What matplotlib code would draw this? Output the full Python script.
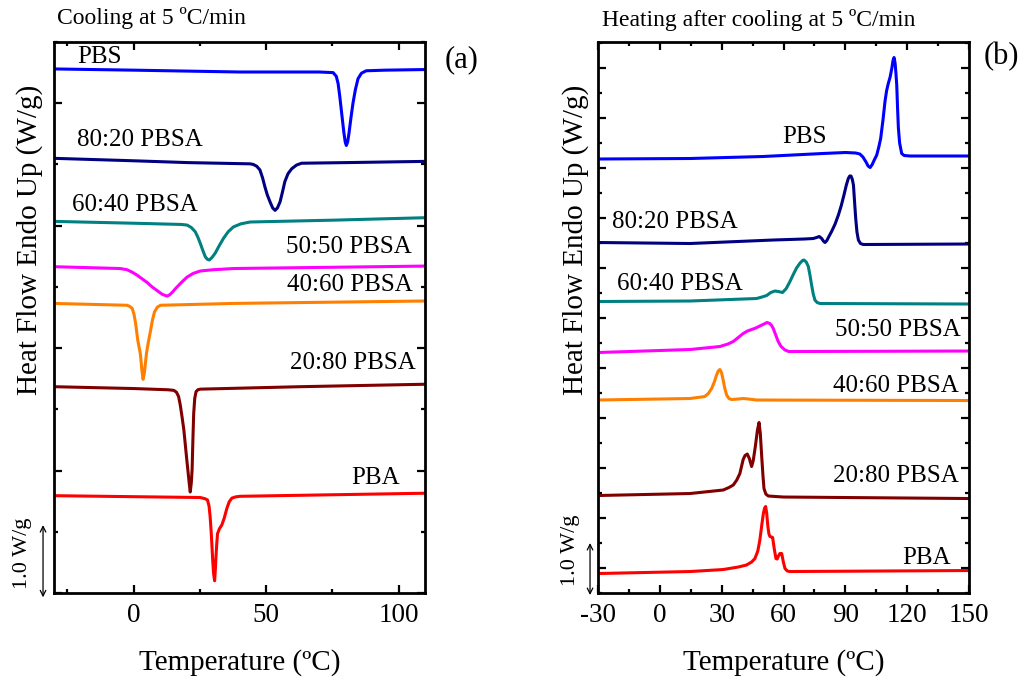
import matplotlib
matplotlib.use("Agg")
import matplotlib.pyplot as plt
from matplotlib.ticker import MultipleLocator

plt.rcParams["font.family"] = ["Liberation Serif", "DejaVu Serif"]
plt.rcParams["axes.unicode_minus"] = False

# ---- (a) cooling scans: temperature (C) and offset heat flow (plot units) ----
cool_pbs_t = [-30, 0, 40, 70, 75.3, 76.5, 77.2, 77.8, 78.4, 79.0, 79.4, 79.9, 80.3, 80.8,
              81.3, 82.0, 82.8, 83.7, 84.7, 86.0, 87.8, 95, 110]
cool_pbs_y = [8.56, 8.54, 8.51, 8.51, 8.50, 8.44, 8.32, 8.12, 7.89, 7.66, 7.51, 7.36, 7.31, 7.37,
              7.51, 7.75, 8.00, 8.22, 8.40, 8.49, 8.53, 8.54, 8.55]

cool_8020_t = [-30, 0, 20.6, 44.0, 45.2, 46.5, 47.7, 48.7, 49.6, 50.5, 51.5, 52.5, 53.4, 54.3,
               55.3, 56.2, 57.1, 58.3, 59.7, 61.5, 63.4, 80, 110]
cool_8020_y = [7.10, 7.06, 7.03, 7.01, 7.00, 6.97, 6.91, 6.78, 6.63, 6.50, 6.39, 6.29, 6.25, 6.29,
               6.39, 6.55, 6.72, 6.85, 6.93, 6.99, 7.02, 7.03, 7.05]

cool_6040_t = [-30, 0, 18.0, 20.2, 21.8, 23.3, 24.3, 25.2, 26.2, 27.1, 27.9, 28.6, 29.6, 30.8,
               32.3, 33.9, 35.7, 37.7, 40.5, 44.0, 75.3, 110]
cool_6040_y = [6.07, 6.04, 6.02, 6.01, 5.97, 5.90, 5.81, 5.71, 5.59, 5.49, 5.45, 5.44, 5.48, 5.55,
               5.67, 5.79, 5.90, 5.98, 6.03, 6.06, 6.09, 6.13]

cool_5050_t = [-30, -5.0, -2.4, -0.5, 1.4, 3.3, 5.2, 7.0, 8.9, 10.8, 12.0, 12.7, 13.6, 14.6,
               15.8, 18.0, 20.2, 22.5, 25.2, 30.0, 37.7, 110]
cool_5050_y = [5.33, 5.30, 5.28, 5.24, 5.19, 5.13, 5.07, 5.00, 4.94, 4.88, 4.86, 4.85, 4.87, 4.91,
               4.97, 5.07, 5.16, 5.22, 5.26, 5.28, 5.30, 5.34]

cool_4060_t = [-30, -2.4, -1.4, -0.5, 0.2, 0.8, 1.6, 2.6, 3.2, 3.6, 4.1, 4.9, 5.6, 6.4, 7.1,
               7.9, 9.0, 10.2, 37.7, 110]
cool_4060_y = [4.73, 4.70, 4.68, 4.65, 4.55, 4.40, 4.13, 3.90, 3.62, 3.49, 3.60, 3.92, 4.10, 4.28,
               4.45, 4.59, 4.67, 4.70, 4.73, 4.77]

cool_2080_t = [-30, 0, 13.0, 15.2, 16.2, 17.0, 17.6, 18.3, 19.0, 19.5, 20.0, 20.5, 21.0, 21.4,
               21.8, 22.1, 22.4, 22.7, 23.1, 23.6, 24.3, 25.2, 62.8, 110]
cool_2080_y = [3.37, 3.34, 3.32, 3.31, 3.28, 3.21, 3.08, 2.88, 2.66, 2.44, 2.22, 2.01, 1.80, 1.65,
               1.80, 2.01, 2.50, 2.93, 3.18, 3.29, 3.32, 3.33, 3.37, 3.41]

cool_pba_t = [-30, 25.2, 27.0, 27.9, 28.5, 28.9, 29.3, 29.6, 29.9, 30.2, 30.6, 30.9, 31.1, 31.4,
              31.7, 32.4, 33.3, 34.2, 35.2, 36.1, 37.1, 38.5, 40.2, 110]
cool_pba_y = [1.59, 1.56, 1.54, 1.52, 1.42, 1.25, 1.00, 0.76, 0.52, 0.32, 0.20, 0.40, 0.59, 0.80,
              0.97, 1.05, 1.11, 1.22, 1.38, 1.49, 1.55, 1.57, 1.58, 1.63]

# ---- (b) heating scans ----
heat_pbs_t = [-30, 14.6, 50, 79.0, 90.0, 95.0, 97.0, 98.5, 100.0, 101.0, 102.0, 103.0, 104.0,
              105.2, 106.2, 107.1, 108.2, 109.2, 110.0, 110.8, 111.7, 112.5, 113.1, 113.6,
              114.1, 114.5, 114.9, 115.3, 115.7, 116.3, 117.3, 118.5, 121.4, 150]
heat_pbs_y = [8.18, 8.19, 8.23, 8.29, 8.31, 8.30, 8.28, 8.22, 8.12, 8.04, 8.01, 8.07, 8.16,
              8.26, 8.42, 8.59, 8.95, 9.33, 9.55, 9.69, 9.82, 9.99, 10.15, 10.21,
              10.10, 9.90, 9.66, 9.20, 8.80, 8.50, 8.29, 8.25, 8.24, 8.24]

heat_8020_t = [-30, 14.6, 55.0, 70.0, 74.4, 76.0, 77.3, 78.5, 79.3, 80.1, 81.0, 82.0, 83.3,
               85.0, 86.6, 88.0, 89.3, 90.4, 91.4, 92.1, 92.7, 93.3, 93.9, 94.4, 95.0, 95.6,
               96.3, 97.3, 98.7, 150]
heat_8020_y = [6.51, 6.49, 6.56, 6.58, 6.59, 6.61, 6.63, 6.59, 6.54, 6.51, 6.55, 6.63, 6.73,
               6.88, 7.06, 7.25, 7.46, 7.65, 7.79, 7.84, 7.84, 7.78, 7.66, 7.35, 6.99, 6.72,
               6.56, 6.49, 6.47, 6.48]

heat_6040_t = [-30, 14.6, 46.9, 49.5, 51.8, 53.8, 55.8, 57.5, 59.5, 61.3, 63.1, 64.7, 66.3,
               68.0, 69.2, 69.9, 71.0, 72.0, 72.8, 73.6, 74.4, 75.2, 76.3, 77.7, 150]
heat_6040_y = [5.33, 5.34, 5.39, 5.42, 5.45, 5.51, 5.54, 5.53, 5.51, 5.59, 5.73, 5.87, 6.00,
               6.10, 6.15, 6.16, 6.12, 6.03, 5.86, 5.66, 5.48, 5.36, 5.31, 5.29, 5.28]

heat_5050_t = [-30, 14.6, 29.1, 33.0, 35.6, 38.0, 40.4, 42.5, 44.5, 46.5, 48.5, 50.5, 52.0,
               53.3, 54.2, 55.0, 56.2, 57.4, 58.8, 60.7, 62.5, 64.7, 150]
heat_5050_y = [4.31, 4.37, 4.43, 4.48, 4.53, 4.61, 4.69, 4.74, 4.77, 4.80, 4.84, 4.88, 4.91,
               4.89, 4.85, 4.79, 4.66, 4.53, 4.43, 4.36, 4.33, 4.33, 4.34]

heat_4060_t = [-30, 14.6, 20.0, 21.8, 23.5, 25.1, 26.4, 27.5, 28.3, 29.1, 29.9, 30.7, 31.5,
               32.4, 33.5, 34.8, 38.0, 40.4, 43.0, 46.9, 150]
heat_4060_y = [3.36, 3.39, 3.42, 3.43, 3.49, 3.59, 3.72, 3.86, 3.94, 3.97, 3.91, 3.76, 3.59,
               3.46, 3.39, 3.37, 3.38, 3.39, 3.38, 3.36, 3.35]

heat_2080_t = [-30, 14.6, 30.7, 33.5, 35.6, 37.3, 38.8, 39.6, 40.4, 41.3, 42.4, 43.4, 44.5,
               45.3, 46.3, 47.3, 48.1, 48.7, 49.4, 50.0, 50.5, 51.4, 52.6, 60.0, 150]
heat_2080_y = [1.45, 1.49, 1.56, 1.61, 1.66, 1.76, 1.89, 2.03, 2.17, 2.25, 2.28, 2.19, 2.03,
               2.15, 2.43, 2.75, 2.91, 2.70, 2.23, 1.85, 1.59, 1.48, 1.44, 1.42, 1.39]

heat_pba_t = [-30, 14.6, 30.7, 38.0, 42.0, 44.5, 46.1, 47.5, 48.5, 49.4, 50.2, 50.8, 51.3,
              51.8, 52.4, 52.9, 53.4, 54.1, 54.7, 55.5, 56.3, 56.9, 57.4, 58.2, 59.1, 59.9,
              60.7, 61.8, 63.1, 150]
heat_pba_y = [-0.11, -0.07, -0.03, 0.02, 0.06, 0.12, 0.19, 0.34, 0.56, 0.85, 1.09, 1.20, 1.23,
              1.10, 0.83, 0.68, 0.63, 0.62, 0.61, 0.38, 0.19, 0.18, 0.23, 0.29, 0.29, 0.12,
              -0.01, -0.06, -0.07, -0.05]

names = ["PBS", "80:20 PBSA", "60:40 PBSA", "50:50 PBSA", "40:60 PBSA", "20:80 PBSA", "PBA"]
colors = ["#0000ff", "#000080", "#008080", "#ff00ff", "#ff8000", "#800000", "#ff0000"]

cool_curves = [(cool_pbs_t, cool_pbs_y), (cool_8020_t, cool_8020_y), (cool_6040_t, cool_6040_y),
               (cool_5050_t, cool_5050_y), (cool_4060_t, cool_4060_y), (cool_2080_t, cool_2080_y),
               (cool_pba_t, cool_pba_y)]
heat_curves = [(heat_pbs_t, heat_pbs_y), (heat_8020_t, heat_8020_y), (heat_6040_t, heat_6040_y),
               (heat_5050_t, heat_5050_y), (heat_4060_t, heat_4060_y), (heat_2080_t, heat_2080_y),
               (heat_pba_t, heat_pba_y)]

# label anchors (temperature, offset) for each curve name
cool_label_pos = [(-21.4, 8.75), (-21.4, 7.40), (-23.3, 6.33), (57.5, 5.65),
                  (57.9, 5.03), (59.0, 3.76), (82.3, 1.88)]
heat_label_pos = [(59.2, 8.62), (-23.3, 6.92), (-20.9, 5.68), (85.0, 4.76),
                  (84.0, 3.64), (84.0, 1.84), (117.5, 0.20)]

fig = plt.figure(figsize=(10.23, 6.84), dpi=100)
ax_a = fig.add_axes([0.0528, 0.1330, 0.3627, 0.8056])
ax_b = fig.add_axes([0.5846, 0.1330, 0.3627, 0.8056])


def style_axes(ax, xlim, ylim, xmaj, xmin, ymaj, ymin):
    ax.set_xlim(*xlim)
    ax.set_ylim(*ylim)
    ax.xaxis.set_major_locator(MultipleLocator(xmaj))
    ax.xaxis.set_minor_locator(MultipleLocator(xmin))
    ax.yaxis.set_major_locator(MultipleLocator(ymaj))
    ax.yaxis.set_minor_locator(MultipleLocator(ymin))
    ax.tick_params(which="both", direction="in", top=True, right=True, width=1.6)
    ax.tick_params(which="major", length=6)
    ax.tick_params(which="minor", length=3)
    ax.tick_params(axis="x", labelsize=19.5, pad=7)
    ax.tick_params(axis="y", labelleft=False)
    for sp in ax.spines.values():
        sp.set_linewidth(2)
    ax.set_xlabel("Temperature (ºC)", fontsize=21)
    ax.xaxis.set_label_coords(0.5, -0.127)
    ax.xaxis.label.set_va("center")


for (t, y), c in zip(cool_curves, colors):
    ax_a.plot(t, y, color=c, lw=2.2, solid_joinstyle="round")
for (t, y), c in zip(heat_curves, colors):
    ax_b.plot(t, y, color=c, lw=2.2, solid_joinstyle="round")

for name, (tx, ty) in zip(names, cool_label_pos):
    ax_a.text(tx, ty, name, fontsize=18, ha="left", va="center")
for name, (tx, ty) in zip(names, heat_label_pos):
    ax_b.text(tx, ty, name, fontsize=18, ha="left", va="center")

style_axes(ax_a, (-30, 110), (0, 9.0), 50, 25, 2, 1)
style_axes(ax_b, (-30, 150), (-0.5, 10.52), 30, 15, 1, 0.5)

# scale bars
ax_a.annotate("", xy=(-0.0296, -0.07), xytext=(-0.0296, 1.11),
              xycoords=("axes fraction", "data"), textcoords=("axes fraction", "data"),
              arrowprops=dict(arrowstyle="<->", lw=0.9, color="black",
                              shrinkA=0, shrinkB=0), annotation_clip=False)
ax_a.text(-0.086, 0.65, "1.0 W/g", rotation=90, fontsize=16, ha="center", va="center",
          transform=ax_a.get_yaxis_transform())
ax_b.annotate("", xy=(-0.0216, -0.54), xytext=(-0.0216, 0.50),
              xycoords=("axes fraction", "data"), textcoords=("axes fraction", "data"),
              arrowprops=dict(arrowstyle="<->", lw=0.9, color="black",
                              shrinkA=0, shrinkB=0), annotation_clip=False)
ax_b.text(-0.073, 0.36, "1.0 W/g", rotation=90, fontsize=16, ha="center", va="center",
          transform=ax_b.get_yaxis_transform())

# panel titles, tags and y labels
fig.text(0.0557, 0.974, "Cooling at 5 ºC/min", fontsize=17, ha="left", va="center")
fig.text(0.5885, 0.971, "Heating after cooling at 5 ºC/min", fontsize=17, ha="left", va="center")
fig.text(0.4516, 0.912, "(a)", fontsize=22, ha="center", va="center")
fig.text(0.9785, 0.917, "(b)", fontsize=22, ha="center", va="center")
fig.text(0.029, 0.649, "Heat Flow Endo Up (W/g)", rotation=90, fontsize=21,
         ha="center", va="center")
fig.text(0.563, 0.649, "Heat Flow Endo Up (W/g)", rotation=90, fontsize=21,
         ha="center", va="center")

fig.savefig("out.png", dpi=100)
